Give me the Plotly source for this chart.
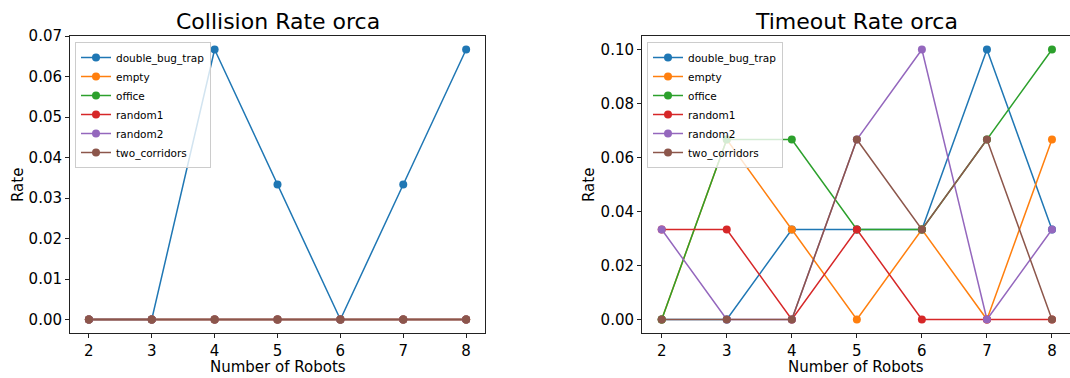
import plotly.graph_objects as go

robots = [2, 3, 4, 5, 6, 7, 8]
series_names = ["double_bug_trap", "empty", "office", "random1", "random2", "two_corridors"]
colors = ["#1f77b4", "#ff7f0e", "#2ca02c", "#d62728", "#9467bd", "#8c564b"]

t = 1 / 30
collision_double_bug_trap = [0, 0, 2 * t, t, 0, t, 2 * t]
collision_empty = [0, 0, 0, 0, 0, 0, 0]
collision_office = [0, 0, 0, 0, 0, 0, 0]
collision_random1 = [0, 0, 0, 0, 0, 0, 0]
collision_random2 = [0, 0, 0, 0, 0, 0, 0]
collision_two_corridors = [0, 0, 0, 0, 0, 0, 0]

timeout_double_bug_trap = [0, 0, t, t, t, 3 * t, t]
timeout_empty = [0, 2 * t, t, 0, t, 0, 2 * t]
timeout_office = [0, 2 * t, 2 * t, t, t, 2 * t, 3 * t]
timeout_random1 = [t, t, 0, t, 0, 0, 0]
timeout_random2 = [t, 0, 0, 2 * t, 3 * t, 0, t]
timeout_two_corridors = [0, 0, 0, 2 * t, t, 2 * t, 0]

collision = [collision_double_bug_trap, collision_empty, collision_office,
             collision_random1, collision_random2, collision_two_corridors]
timeout = [timeout_double_bug_trap, timeout_empty, timeout_office,
           timeout_random1, timeout_random2, timeout_two_corridors]

W, H = 1070, 378
FONT = "DejaVu Sans"

fig = go.Figure()
for name, c, ys in zip(series_names, colors, collision):
    fig.add_trace(go.Scatter(x=robots, y=ys, name=name, mode="lines+markers",
                             line=dict(color=c, width=1.5), marker=dict(color=c, size=8),
                             xaxis="x", yaxis="y", legend="legend"))
for name, c, ys in zip(series_names, colors, timeout):
    fig.add_trace(go.Scatter(x=robots, y=ys, name=name, mode="lines+markers",
                             line=dict(color=c, width=1.5), marker=dict(color=c, size=8),
                             xaxis="x2", yaxis="y2", legend="legend2"))

def px_x(p):
    return p / W

def px_y(p):
    return 1 - p / H

axis_common = dict(showline=True, mirror=True, linecolor="#222222", linewidth=1,
                   ticks="outside", ticklen=4, tickcolor="#222222", showgrid=False,
                   zeroline=False, automargin=False,
                   tickfont=dict(family=FONT, size=15, color="black"))

legend_common = dict(font=dict(family=FONT, size=10.5, color="black"),
                     bgcolor="rgba(255,255,255,0.8)", bordercolor="#cccccc", borderwidth=1,
                     xanchor="left", yanchor="top", tracegroupgap=0, itemwidth=30)

def ann(text, x, y, size, angle=0):
    return dict(text=text, x=px_x(x), y=px_y(y), xref="paper", yref="paper",
                xanchor="center", yanchor="middle", textangle=angle, showarrow=False,
                font=dict(family=FONT, size=size, color="black"))

fig.update_layout(
    width=W, height=H,
    margin=dict(l=0, r=0, t=0, b=0, autoexpand=False),
    paper_bgcolor="white", plot_bgcolor="white",
    xaxis=dict(domain=[px_x(70), px_x(485)], range=[1.7, 8.3], tickmode="array",
               tickvals=robots, anchor="y", **axis_common),
    yaxis=dict(domain=[px_y(333), px_y(36)], range=[-0.07 / 21, 0.07], dtick=0.01,
               tickformat=".2f", anchor="x", **axis_common),
    xaxis2=dict(domain=[px_x(642), 1.0], range=[1.697, 8.277], tickmode="array",
                tickvals=robots, anchor="y2", **axis_common),
    yaxis2=dict(domain=[px_y(333), px_y(36)], range=[-0.005, 0.105], dtick=0.02,
                tickformat=".2f", anchor="x2", **axis_common),
    legend=dict(x=px_x(75), y=px_y(42), **legend_common),
    legend2=dict(x=px_x(647), y=px_y(42), **legend_common),
    annotations=[
        ann("Collision Rate orca", 277.5, 22, 22),
        ann("Timeout Rate orca", 856, 22, 22),
        ann("Number of Robots", 277.5, 367, 15),
        ann("Number of Robots", 856, 367, 15),
        ann("Rate", 18, 185, 15, -90),
        ann("Rate", 589, 185, 15, -90),
    ],
)

fig.write_html("out.html", config={"displayModeBar": False},
               post_script="document.body.style.margin='0';")
